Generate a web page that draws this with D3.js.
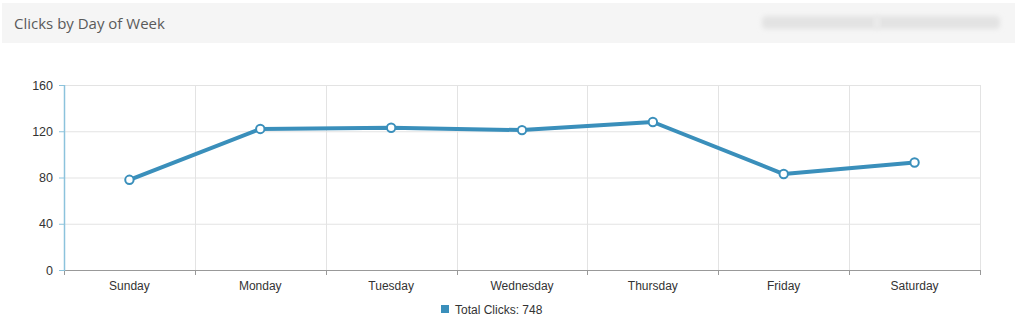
<!DOCTYPE html>
<html><head><meta charset="utf-8">
<script src="https://cdn.jsdelivr.net/npm/d3@7"></script>
<style>
html,body{margin:0;padding:0;background:#fff;}
svg{display:block;}
</style></head>
<body>
<svg id="chart" width="1024" height="326"></svg>
<script>
const days = ["Sunday","Monday","Tuesday","Wednesday","Thursday","Friday","Saturday"];
const clicks = [78,122,123,121,128,83,93];
const yTicks = [0,40,80,120,160];
const title = "Clicks by Day of Week";
const seriesName = "Total Clicks";

(function(){
const svg = d3.select("#chart");
const lineColor = "#3a8fbb";

// header panel
svg.append("rect").attr("x",2).attr("y",3).attr("width",1013).attr("height",40).attr("fill","#f5f5f5");
svg.append("text").attr("x",14).attr("y",29).text(title)
  .attr("font-family","'Open Sans', sans-serif").attr("font-size",15).attr("fill","#5a5a5a");
// blurred placeholder
const defs = svg.append("defs");
defs.append("filter").attr("id","blur").attr("x","-20%").attr("y","-50%").attr("width","140%").attr("height","200%")
  .append("feGaussianBlur").attr("stdDeviation",2.5);
svg.append("rect").attr("x",762).attr("y",16).attr("width",238).attr("height",13).attr("rx",4)
  .attr("fill","#e3e3e3").attr("filter","url(#blur)");
svg.append("rect").attr("x",874).attr("y",16).attr("width",6).attr("height",13)
  .attr("fill","#ececec").attr("filter","url(#blur)");

const pl=64, pr=980, pt=85, pb=270;
const x = d3.scaleBand().domain(days).range([pl,pr]);
const y = d3.scaleLinear().domain([0,160]).range([pb,pt]);

const g = svg.append("g");
// horizontal grid
g.selectAll(".hg").data(yTicks.filter(d=>d>0)).enter().append("line")
  .attr("x1",pl).attr("x2",pr).attr("y1",d=>y(d)+0.5).attr("y2",d=>y(d)+0.5)
  .attr("stroke","#e3e3e3").attr("stroke-width",1);
// vertical grid at band boundaries
const bounds = days.map(d=>x(d)).concat([pr]);
g.selectAll(".vg").data(bounds.slice(1)).enter().append("line")
  .attr("x1",d=>Math.round(d)+0.5).attr("x2",d=>Math.round(d)+0.5).attr("y1",pt).attr("y2",pb)
  .attr("stroke","#e3e3e3").attr("stroke-width",1);

// x axis
const xAxisG = svg.append("g").attr("transform",`translate(0,${pb})`);
xAxisG.append("line").attr("x1",pl).attr("x2",pr).attr("y1",0.5).attr("y2",0.5).attr("stroke","#999");
xAxisG.selectAll(".xt").data(bounds).enter().append("line")
  .attr("x1",d=>Math.round(d)+0.5).attr("x2",d=>Math.round(d)+0.5).attr("y1",0).attr("y2",5).attr("stroke","#999");
xAxisG.selectAll(".xl").data(days).enter().append("text")
  .attr("x",d=>x(d)+x.bandwidth()/2).attr("y",20).attr("text-anchor","middle")
  .attr("font-family","'Liberation Sans', Arial, sans-serif").attr("font-size",12).attr("fill","#333")
  .text(d=>d);

// y axis
const yAxisG = svg.append("g");
yAxisG.append("line").attr("x1",pl+0.5).attr("x2",pl+0.5).attr("y1",pt).attr("y2",pb+1)
  .attr("stroke","#8cc3dc").attr("stroke-width",1.5);
yAxisG.selectAll(".yt").data(yTicks).enter().append("line")
  .attr("x1",pl-5).attr("x2",pl).attr("y1",d=>y(d)+0.5).attr("y2",d=>y(d)+0.5).attr("stroke","#8cc3dc");
yAxisG.selectAll(".yl").data(yTicks).enter().append("text")
  .attr("x",pl-11).attr("y",d=>y(d)+4.5).attr("text-anchor","end")
  .attr("font-family","'Liberation Sans', Arial, sans-serif").attr("font-size",12.5).attr("fill","#333")
  .text(d=>d);

// line
const pts = days.map((d,i)=>({d,v:clicks[i]}));
svg.append("path").datum(pts)
  .attr("d",d3.line().x(p=>x(p.d)+x.bandwidth()/2).y(p=>y(p.v)))
  .attr("fill","none").attr("stroke",lineColor).attr("stroke-width",4).attr("stroke-linejoin","round");
svg.selectAll(".pt").data(pts).enter().append("circle")
  .attr("cx",p=>x(p.d)+x.bandwidth()/2).attr("cy",p=>y(p.v)).attr("r",4.2)
  .attr("fill","#fff").attr("stroke",lineColor).attr("stroke-width",2);

// legend
const total = d3.sum(clicks);
svg.append("rect").attr("x",441).attr("y",305).attr("width",8).attr("height",8).attr("fill",lineColor);
svg.append("text").attr("x",455).attr("y",313.5).text(`${seriesName}: ${total}`)
  .attr("font-family","'Liberation Sans', Arial, sans-serif").attr("font-size",12).attr("fill","#333");
})();
</script>
</body></html>
